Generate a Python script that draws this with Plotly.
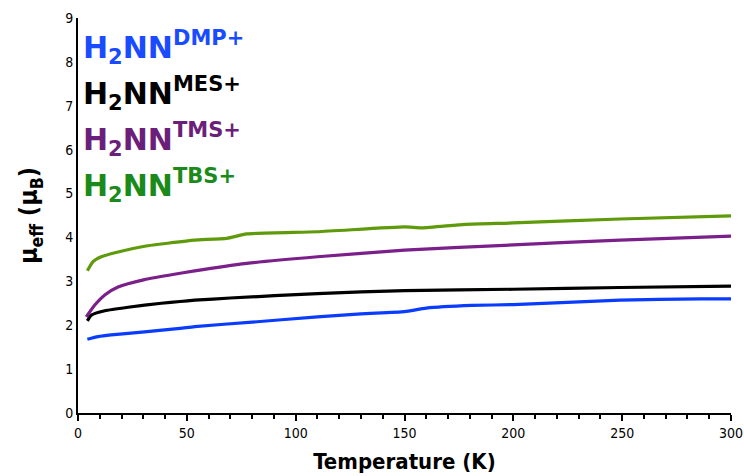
import plotly.graph_objects as go

# Temperature (K) sample points
T_dmp = [4.3, 9.2, 15.3, 30.6, 46.9, 53.6, 80, 110, 130, 150, 160, 181, 200, 249, 286, 300]
mu_dmp = [1.68, 1.74, 1.78, 1.85, 1.93, 1.97, 2.07, 2.19, 2.26, 2.31, 2.39, 2.45, 2.47, 2.57, 2.60, 2.60]

T_mes = [4.3, 6.1, 12.3, 23, 38.3, 46.9, 53.6, 69.9, 110, 150, 200, 249, 300]
mu_mes = [2.10, 2.23, 2.33, 2.41, 2.50, 2.54, 2.57, 2.62, 2.72, 2.79, 2.82, 2.86, 2.89]

T_tms = [3.8, 7.7, 12.3, 18.4, 30.6, 42.9, 53.6, 77.5, 110, 150, 200, 249, 300]
mu_tms = [2.19, 2.46, 2.69, 2.87, 3.04, 3.15, 3.24, 3.41, 3.56, 3.71, 3.83, 3.94, 4.03]

T_tbs = [4.3, 6.9, 10.7, 18.4, 30.6, 42.9, 53.6, 68.3, 77.5, 110, 150, 158, 178, 200, 249, 300]
mu_tbs = [3.24, 3.45, 3.56, 3.67, 3.80, 3.88, 3.94, 3.98, 4.08, 4.13, 4.24, 4.22, 4.30, 4.33, 4.42, 4.49]

series = [
    ("DMP+", T_dmp, mu_dmp, "#0a3cff", "#1a4cff"),
    ("MES+", T_mes, mu_mes, "#000000", "#000000"),
    ("TMS+", T_tms, mu_tms, "#7b1f8a", "#6b1f7b"),
    ("TBS+", T_tbs, mu_tbs, "#5e9a0a", "#1a8a1a"),
]

x_ticks = [0, 50, 100, 150, 200, 250, 300]
y_ticks = list(range(0, 10))

fig = go.Figure()
for name, xs, ys, lc, tc in series:
    fig.add_trace(go.Scatter(x=xs, y=ys, mode="lines",
                             line=dict(color=lc, width=3.2, shape="spline", smoothing=0.5),
                             showlegend=False, hoverinfo="skip"))

legend_y = [8.33, 7.28, 6.23, 5.18]
for (name, xs, ys, lc, tc), ly in zip(series, legend_y):
    fig.add_annotation(x=1.2, y=ly, xref="x", yref="y", xanchor="left", yanchor="middle",
                       text=f"<b>H<sub>2</sub>NN<sup>{name}</sup></b>", showarrow=False,
                       font=dict(family="DejaVu Sans", size=30, color=tc))

fig.update_layout(
    width=744, height=476,
    margin=dict(l=78, r=13, t=18, b=63),
    paper_bgcolor="white", plot_bgcolor="white",
    font=dict(family="DejaVu Sans Condensed, DejaVu Sans", color="black"),
    xaxis=dict(range=[0, 300], tickvals=x_ticks, showgrid=False, zeroline=False,
               automargin=False,
               showline=True, linecolor="black", linewidth=2,
               ticks="outside", ticklen=6, tickwidth=2, tickcolor="black",
               minor=dict(dtick=10, ticks="outside", ticklen=4, tickwidth=2, tickcolor="black"),
               tickfont=dict(size=14),
               title=dict(text="<b>Temperature (K)</b>", font=dict(size=22), standoff=14)),
    yaxis=dict(range=[0, 9], tickvals=y_ticks, showgrid=False, zeroline=False,
               automargin=False,
               showline=True, linecolor="black", linewidth=2, ticks="",
               tickfont=dict(size=14),
               title=dict(text="<b>μ<sub>eff</sub> (μ<sub>B</sub>)</b>", font=dict(size=25), standoff=20)),
)

fig.write_html("out.html")
